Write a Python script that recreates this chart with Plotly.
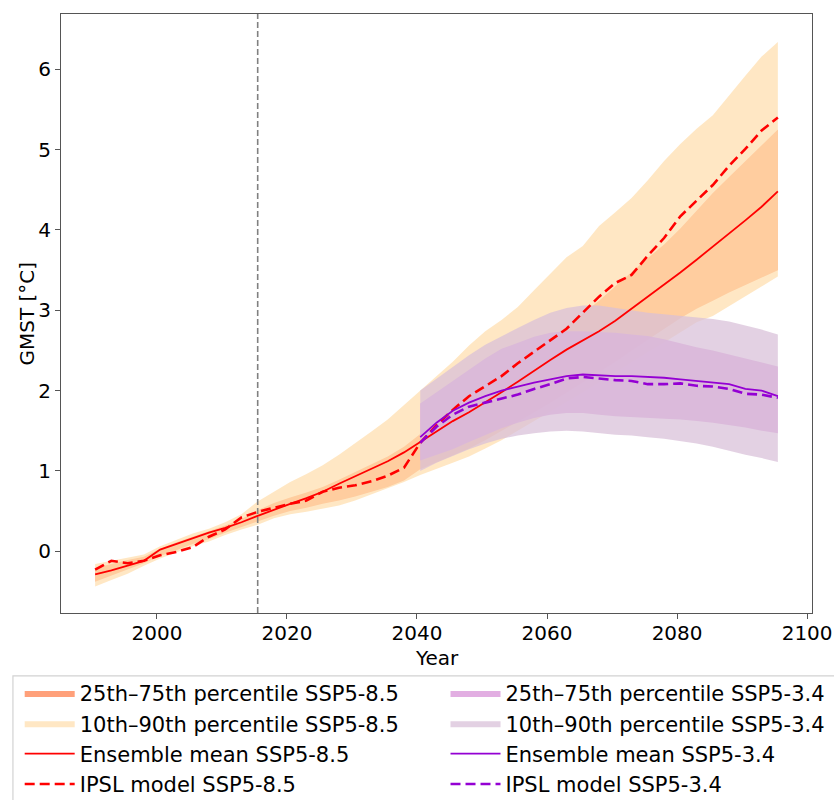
import plotly.graph_objects as go

YEARS = [1990.5, 1993, 1995.5, 1998, 2000.5, 2003, 2005.5, 2008, 2010.5, 2013,
         2015.5, 2018, 2020.5, 2023, 2025.5, 2028, 2030.5, 2033, 2035.5, 2038,
         2040.5, 2043, 2045.5, 2048, 2050.5, 2053, 2055.5, 2058, 2060.5, 2063,
         2065.5, 2068, 2070.5, 2073, 2075.5, 2078, 2080.5, 2083, 2085.5, 2088,
         2090.5, 2093, 2095.5]

MEAN_585 = [-0.29, -0.24, -0.18, -0.12, 0.02, 0.09, 0.16, 0.23, 0.29, 0.36,
            0.44, 0.52, 0.59, 0.66, 0.74, 0.84, 0.93, 1.02, 1.12, 1.23,
            1.36, 1.49, 1.62, 1.73, 1.85, 1.98, 2.11, 2.25, 2.38, 2.51,
            2.62, 2.74, 2.87, 3.02, 3.16, 3.31, 3.47, 3.63, 3.79, 3.95,
            4.12, 4.29, 4.48]
IPSL_585 = [-0.23, -0.12, -0.15, -0.12, -0.05, -0.01, 0.05, 0.18, 0.27, 0.42,
            0.49, 0.54, 0.59, 0.63, 0.74, 0.79, 0.82, 0.87, 0.94, 1.04,
            1.35, 1.57, 1.76, 1.93, 2.05, 2.18, 2.34, 2.48, 2.63, 2.77,
            2.97, 3.17, 3.34, 3.44, 3.68, 3.90, 4.17, 4.37, 4.56, 4.80,
            5.01, 5.24, 5.40]
P10_585 = [-0.44, -0.36, -0.28, -0.18, -0.09, -0.02, 0.06, 0.12, 0.20, 0.27,
           0.33, 0.41, 0.46, 0.49, 0.53, 0.57, 0.63, 0.70, 0.78, 0.86,
           0.95, 1.02, 1.10, 1.18, 1.28, 1.38, 1.50, 1.62, 1.74, 1.86,
           1.98, 2.10, 2.22, 2.35, 2.48, 2.60, 2.72, 2.85, 2.93, 3.05,
           3.18, 3.30, 3.42]
P25_585 = [-0.38, -0.31, -0.23, -0.15, -0.06, 0.01, 0.09, 0.15, 0.23, 0.30,
           0.37, 0.44, 0.50, 0.54, 0.59, 0.63, 0.68, 0.74, 0.80, 0.88,
           1.02, 1.10, 1.19, 1.28, 1.38, 1.49, 1.61, 1.73, 1.85, 1.97,
           2.10, 2.23, 2.36, 2.50, 2.63, 2.77, 2.90, 3.02, 3.12, 3.22,
           3.32, 3.41, 3.50]
P75_585 = [-0.21, -0.16, -0.11, -0.07, 0.03, 0.11, 0.18, 0.25, 0.32, 0.40,
           0.51, 0.60, 0.67, 0.73, 0.80, 0.89, 0.99, 1.08, 1.18, 1.30,
           1.46, 1.60, 1.75, 1.91, 2.06, 2.21, 2.36, 2.50, 2.64, 2.80,
           2.96, 3.12, 3.30, 3.48, 3.65, 3.82, 4.02, 4.24, 4.46, 4.66,
           4.86, 5.06, 5.25]
P90_585 = [-0.16, -0.12, -0.08, -0.04, 0.06, 0.14, 0.22, 0.28, 0.36, 0.46,
           0.62, 0.74, 0.86, 0.96, 1.07, 1.20, 1.34, 1.49, 1.64, 1.82,
           2.00, 2.17, 2.36, 2.56, 2.74, 2.88, 3.04, 3.25, 3.45, 3.66,
           3.80, 4.05, 4.22, 4.40, 4.62, 4.86, 5.07, 5.26, 5.43, 5.68,
           5.92, 6.16, 6.34]

YEARS_34 = [2040.5, 2043, 2045.5, 2048, 2050.5, 2053, 2055.5, 2058, 2060.5, 2063,
            2065.5, 2068, 2070.5, 2073, 2075.5, 2078, 2080.5, 2083, 2085.5, 2088,
            2090.5, 2093, 2095.5]
MEAN_534 = [1.42, 1.60, 1.75, 1.85, 1.93, 2.00, 2.05, 2.10, 2.14, 2.18,
            2.20, 2.19, 2.18, 2.18, 2.17, 2.16, 2.14, 2.12, 2.10, 2.08,
            2.02, 2.00, 1.93]
IPSL_534 = [1.35, 1.55, 1.70, 1.80, 1.85, 1.90, 1.95, 2.02, 2.08, 2.15,
            2.17, 2.15, 2.13, 2.12, 2.08, 2.08, 2.09, 2.06, 2.05, 2.02,
            1.96, 1.95, 1.91]
P10_534 = [1.00, 1.10, 1.19, 1.27, 1.34, 1.40, 1.44, 1.47, 1.49, 1.50,
           1.49, 1.47, 1.45, 1.44, 1.42, 1.40, 1.37, 1.34, 1.30, 1.25,
           1.20, 1.16, 1.11]
P25_534 = [1.13, 1.20, 1.27, 1.36, 1.45, 1.53, 1.60, 1.66, 1.70, 1.72,
           1.72, 1.70, 1.68, 1.67, 1.66, 1.65, 1.64, 1.62, 1.60, 1.57,
           1.54, 1.50, 1.47]
P75_534 = [1.84, 1.98, 2.12, 2.26, 2.40, 2.52, 2.60, 2.67, 2.72, 2.74,
           2.74, 2.73, 2.72, 2.70, 2.68, 2.64, 2.59, 2.54, 2.50, 2.45,
           2.40, 2.35, 2.30]
P90_534 = [2.00, 2.15, 2.30, 2.44, 2.57, 2.68, 2.78, 2.88, 2.97, 3.03,
           3.06, 3.06, 3.03, 3.00, 2.97, 2.95, 2.93, 2.91, 2.89, 2.86,
           2.81, 2.76, 2.70]

REF_YEAR = 2015.5
X_TICKS = [2000, 2020, 2040, 2060, 2080, 2100]
Y_TICKS = [0, 1, 2, 3, 4, 5, 6]

FONT = "DejaVu Sans"


def band(x, lo, hi, name, color, legend):
    return go.Scatter(
        x=list(x) + list(x)[::-1],
        y=list(hi) + list(lo)[::-1],
        fill="toself", fillcolor=color, mode="lines",
        line=dict(width=0, color=color), name=name, legend=legend,
        hoverinfo="skip",
    )


fig = go.Figure()
fig.add_trace(band(YEARS, P25_585, P75_585, "25th\u201375th percentile SSP5-8.5",
                   "rgba(255,160,122,1.0)", "legend"))
fig.add_trace(band(YEARS, P10_585, P90_585, "10th\u201390th percentile SSP5-8.5",
                   "rgba(255,222,173,0.72)", "legend"))
fig.add_trace(band(YEARS_34, P25_534, P75_534, "25th\u201375th percentile SSP5-3.4",
                   "rgba(221,160,221,0.85)", "legend2"))
fig.add_trace(band(YEARS_34, P10_534, P90_534, "10th\u201390th percentile SSP5-3.4",
                   "rgba(216,191,216,0.72)", "legend2"))

fig.add_trace(go.Scatter(x=YEARS, y=MEAN_585, mode="lines", name="Ensemble mean SSP5-8.5",
                         line=dict(color="red", width=1.8), legend="legend"))
fig.add_trace(go.Scatter(x=YEARS, y=IPSL_585, mode="lines", name="IPSL model SSP5-8.5",
                         line=dict(color="red", width=2.6, dash="10px,5px"), legend="legend"))
fig.add_trace(go.Scatter(x=YEARS_34, y=MEAN_534, mode="lines", name="Ensemble mean SSP5-3.4",
                         line=dict(color="darkviolet", width=1.8), legend="legend2"))
fig.add_trace(go.Scatter(x=YEARS_34, y=IPSL_534, mode="lines", name="IPSL model SSP5-3.4",
                         line=dict(color="darkviolet", width=2.6, dash="10px,5px"), legend="legend2"))

fig.add_shape(type="line", x0=REF_YEAR, x1=REF_YEAR, xref="x", yref="paper", y0=0, y1=1,
              line=dict(color="gray", width=1.6, dash="6px,3px"), layer="above")

# legend frame
fig.add_shape(type="rect", xref="paper", yref="paper", x0=-0.064, x1=1.04, y0=-0.105, y1=-0.35,
              line=dict(color="rgb(210,210,210)", width=1.2), fillcolor="rgba(255,255,255,0.8)",
              layer="below")

# axis titles
fig.add_annotation(text="Year", xref="paper", yref="paper", x=0.5, y=-0.0745,
                   xanchor="center", yanchor="middle", showarrow=False,
                   font=dict(family=FONT, size=20, color="black"))
fig.add_annotation(text="GMST [°C]", xref="paper", yref="paper", x=-0.0453, y=0.5,
                   xanchor="center", yanchor="middle", showarrow=False, textangle=-90,
                   font=dict(family=FONT, size=20, color="black"))

legend_common = dict(
    orientation="v", yanchor="top", xanchor="left",
    font=dict(family=FONT, size=21, color="black"),
    bgcolor="rgba(0,0,0,0)", borderwidth=0, itemwidth=50,
    traceorder="normal", itemclick=False,
)

axis_common = dict(
    showgrid=False, zeroline=False, showline=True, mirror=True,
    linecolor="#555", linewidth=1.2, ticks="outside", ticklen=5,
    tickcolor="#555", tickfont=dict(family=FONT, size=20, color="black"),
)

fig.update_layout(
    width=834, height=800,
    margin=dict(l=61, r=22, t=14, b=187, autoexpand=False),
    paper_bgcolor="white", plot_bgcolor="white",
    font=dict(family=FONT, size=20, color="black"),
    xaxis=dict(range=[1985.25, 2100.75], tickvals=X_TICKS, ticklabelstandoff=-3,
               **axis_common),
    yaxis=dict(range=[-0.77, 6.69], tickvals=Y_TICKS, **axis_common),
    legend=dict(x=-0.055, y=-0.100, **legend_common),
    legend2=dict(x=0.512, y=-0.100, **legend_common),
    showlegend=True,
)

fig.write_html("out.html", config={"displayModeBar": False},
               post_script="document.body.style.margin='0px';document.body.style.overflow='hidden';")
